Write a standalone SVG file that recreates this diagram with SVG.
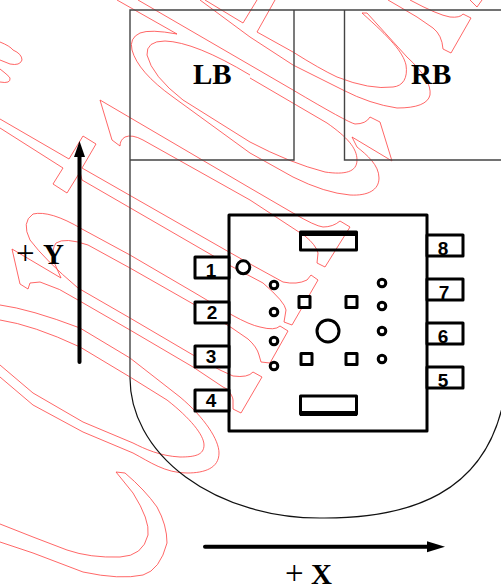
<svg xmlns="http://www.w3.org/2000/svg" width="501" height="587" viewBox="0 0 501 587">
<style>
.wm{fill:none;stroke:#ff4040;stroke-width:.8;stroke-linejoin:round}
.fr{fill:none;stroke:#444;stroke-width:1.4}
.k{fill:#fff;stroke:#000;stroke-width:3;stroke-linejoin:round}
.s{fill:none;stroke:#000;stroke-width:3;stroke-linejoin:round}
.n{font:bold 19px "Liberation Sans",Arial,sans-serif;text-anchor:middle;fill:#000}
.t{font:bold 29px "Liberation Serif","Times New Roman",serif;fill:#000}
.p{font:400 33px "Liberation Serif","Times New Roman",serif;fill:#000}
</style>
<rect width="501" height="587" fill="#fff"/>
<g id="watermark">
<path class="wm" d="M100,100 L250,188 L293,213 Q315,226 323,227 Q333,227 340,221 L350,227 L325,267 L317,263 L318,253 Q316,245 305,236 L250,200 L143,140 Q132,134 125,137 Q120,140 120,146 L112,140 Z"/>
<path class="wm" d="M117,0 L177,34 Q150,29 140,33 Q129,38 132,50 Q138,72 173,97 L250,153 L293,177 Q325,193 350,195 C368,196 379,190 379,178 C379,165 367,155 357,147 L352,137 L392,161 L380,122 L370,117 Q366,124 355,124 Q347,122 293,90 L138,0"/>
<path class="wm" d="M250,75 Q195,42 165,41 Q146,41 147,55 Q152,76 183,100 L250,142 Q290,163 325,172 C345,175 357,172 357,160 C357,148 347,137 327,123 L250,78"/>
<path class="wm" d="M205,0 L243,23 L257,0"/>
<path class="wm" d="M275,0 L257,32 L293,52 Q320,69 337,77 Q370,90 393,87 C403,86 408,78 406,65 C403,52 390,38 362,13 L367,13 L407,57 Q432,80 430,95 Q427,108 397,108 Q370,104 343,90 L293,65 L250,37 L200,0"/>
<path class="wm" d="M388,0 L400,7 L417,17 L433,28 Q442,35 443,49 L451,53 L471,18 L463,14 Q460,18 450,17 Q438,15 410,0"/>
<path class="wm" d="M470,0 L477,7 L482,0"/>
<path class="wm" d="M0,42 Q10,46 13,50 Q22,54 22,60 Q20,66 10,64 L0,60 M0,69 Q9,76 10,78 Q11,84 0,82"/>
<path class="wm" d="M0,119 L69,159 L83,136 L96,144 L82,168 L229,252 L252,265 L283,282 Q297,285 307,280 L311,275 L318,280 L292,325 L284,322 L286,310 Q285,302 263,283 L229,265 L82,180 L80,172 L67,193 L53,184 L63,168 L0,128"/>
<path class="wm" d="M195,293 L232,315 Q250,325 260,327 Q275,331 280,326 L288,331 L270,363 L261,362 L259,355 Q257,347 248,339 L232,328 L195,305 L130,268 L88,245 Q65,237 56,243 Q51,250 54,262 L61,278 L12,249 L20,284 L28,289 L30,283 L40,282 Q60,288 78,300 L130,330 L193,367 L223,387 L227,389 Q233,396 233,400 L233,409 L241,413 L262,377 L253,372 Q248,378 233,376 L220,370 L193,355 L130,318 L78,288 Q45,260 30,240 Q21,222 33,214 Q50,210 82,229 L130,255 Z"/>
<path class="wm" d="M0,305 Q30,309 80,328 L130,358 L180,397 C205,418 219,440 219,453 C219,468 205,473 187,473 C165,473 150,462 133,453 L83,432 L33,405 L0,377"/>
<path class="wm" d="M0,320 Q33,325 80,347 L130,377 L167,400 C190,418 204,435 204,445 C204,455 195,457 180,457 C160,456 145,449 133,443 L83,422 L33,393 L0,365"/>
<path class="wm" d="M116,472 L125,473 Q145,490 157,507 Q167,525 167,543 Q160,570 143,575 Q120,580 83,572 L33,553 L0,542"/>
<path class="wm" d="M116,472 L133,493 Q150,520 148,535 Q143,556 120,557 Q90,558 67,550 L33,537 L0,524"/>
</g>
<g id="frame">
<path class="fr" d="M501,10 H130 V378"/>
<path class="fr" d="M130,160 H294 V10"/>
<path class="fr" d="M344.500,10 V160 H501"/>
<path d="M130,378 A190,140 0 0 0 320,518 C415,519 482,490 502,408" fill="none" stroke="#111" stroke-width="1.200"/>
</g>
<g id="chip">
<rect class="s" x="229" y="215" width="198" height="216"/>
<g id="pin1"><rect class="k" x="195" y="257" width="34" height="21"/><text class="n" x="211" y="277">1</text></g>
<g id="pin2"><rect class="k" x="195" y="302" width="34" height="21"/><text class="n" x="212" y="319">2</text></g>
<g id="pin3"><rect class="k" x="195" y="346" width="34" height="21"/><text class="n" x="211" y="363">3</text></g>
<g id="pin4"><rect class="k" x="195" y="390" width="34" height="21"/><text class="n" x="211" y="407">4</text></g>
<g id="pin8"><rect class="k" x="427" y="235" width="36" height="21"/><text class="n" x="443" y="255">8</text></g>
<g id="pin7"><rect class="k" x="427" y="279" width="36" height="21"/><text class="n" x="444" y="299">7</text></g>
<g id="pin6"><rect class="k" x="427" y="323" width="36" height="21"/><text class="n" x="443" y="343">6</text></g>
<g id="pin5"><rect class="k" x="427" y="367" width="36" height="21"/><text class="n" x="443" y="387">5</text></g>
<g id="slots">
<rect class="s" x="300.500" y="232" width="56" height="18"/><rect x="300" y="231" width="57" height="5" fill="#000"/>
<rect class="s" x="300.500" y="396" width="56" height="18"/><rect x="300" y="411" width="57" height="5" fill="#000"/>
</g>
<g id="holes">
<circle class="k" cx="243.300" cy="267.300" r="6.500"/>
<circle class="k" cx="274" cy="285" r="3.800"/><circle class="k" cx="274" cy="312" r="3.800"/><circle class="k" cx="274" cy="341" r="3.800"/><circle class="k" cx="274" cy="366" r="3.800"/>
<circle class="k" cx="382" cy="283" r="3.800"/><circle class="k" cx="382" cy="306" r="3.800"/><circle class="k" cx="382" cy="331" r="3.800"/><circle class="k" cx="382" cy="359" r="3.800"/>
<circle class="k" cx="328" cy="331" r="11"/>
<rect class="k" x="299" y="296.500" width="11" height="11"/><rect class="k" x="346" y="296.500" width="11" height="11"/><rect class="k" x="301" y="353.500" width="11" height="11"/><rect class="k" x="346" y="353.500" width="11" height="11"/>
</g>
</g>
<g id="connectors">
<path d="M79.500,362 V155" stroke="#000" stroke-width="4" stroke-linecap="round" fill="none"/>
<path d="M79.500,141 L85,157 H74 Z" fill="#000"/>
<path d="M205,546.800 H430" stroke="#000" stroke-width="4" stroke-linecap="round" fill="none"/>
<path d="M445,546.800 L427,541.300 V552.300 Z" fill="#000"/>
</g>
<g id="labels">
<text class="t" x="193" y="83.500">LB</text>
<text class="t" x="411" y="83.500">RB</text>
<text class="t" x="16" y="264"><tspan class="p">+</tspan><tspan x="43">Y</tspan></text>
<text class="t" x="285" y="584"><tspan class="p">+</tspan><tspan x="311">X</tspan></text>
</g>
</svg>
